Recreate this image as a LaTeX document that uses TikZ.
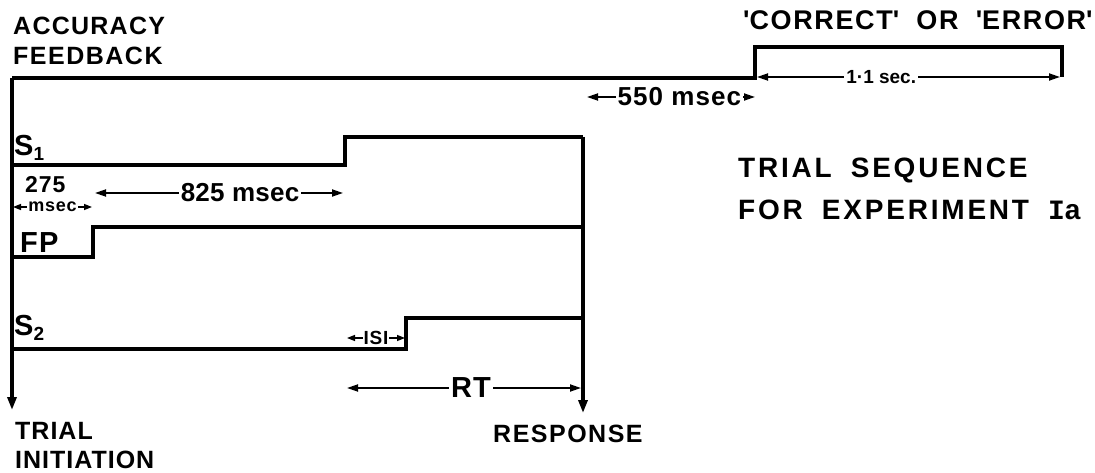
\documentclass[tikz,border=0pt]{standalone}
\usepackage{fontspec}
\setmainfont{Liberation Sans}[LetterSpace=4,BoldFont={Liberation Sans Bold}]
\newfontfamily\slabfont{Liberation Mono Bold}
\usetikzlibrary{arrows.meta}
\newcommand\fsz[1]{\fontsize{#1}{#1}\selectfont\bfseries}
\newcommand\wide[1]{\addfontfeatures{LetterSpace=#1}}
\begin{document}
\begin{tikzpicture}[x=1pt,y=-1pt,
  sig/.style={line width=3.2pt, line join=miter},
  sigarrow/.style={sig, -{Triangle[length=13pt,width=9pt]}},
  dim/.style={line width=1.8pt, {Triangle[length=11pt,width=7pt]}-{Triangle[length=11pt,width=7pt]}},
  smalldim/.style={line width=1.4pt, {Triangle[length=8pt,width=6pt]}-{Triangle[length=8pt,width=6pt]}},
  lbl/.style={inner sep=0pt, anchor=base west},
  dlbl/.style={fill=white, inner sep=2pt},
]
\useasboundingbox (0,0) rectangle (1095,473);

% signal corners
\coordinate (o) at (12,78);
\coordinate (ti) at (12,410);
\coordinate (fbon) at (755,78);
\coordinate (fbhi) at (755,47);
\coordinate (fboffhi) at (1062,47);
\coordinate (fboff) at (1062,77);
\coordinate (s1a) at (12,165);
\coordinate (s1b) at (345,165);
\coordinate (s1c) at (345,137);
\coordinate (r1) at (583,137);
\coordinate (resp) at (583,413);
\coordinate (fpa) at (12,257);
\coordinate (fpb) at (93,257);
\coordinate (fpc) at (93,227);
\coordinate (r2) at (583,227);
\coordinate (s2a) at (12,349);
\coordinate (s2b) at (406,349);
\coordinate (s2c) at (406,318);
\coordinate (r3) at (583,318);

% signal lines
\draw[sig] (fboff) -- (fboffhi) -- (fbhi) -- (fbon) -- (o);
\draw[sigarrow] (o) -- (ti);
\draw[sig] (s1a) -- (s1b) -- (s1c) -- (r1);
\draw[sigarrow] (r1) -- (resp);
\draw[sig] (fpa) -- (fpb) -- (fpc) -- (r2);
\draw[sig] (s2a) -- (s2b) -- (s2c) -- (r3);

% dimension ends
\coordinate (d11a) at (757,77);
\coordinate (d11b) at (1060,77);
\coordinate (d550a) at (587,97);
\coordinate (d550b) at (755,97);
\coordinate (d825a) at (95,193);
\coordinate (d825b) at (343,193);
\coordinate (d275a) at (13,207);
\coordinate (d275b) at (92,207);
\coordinate (disia) at (347,338);
\coordinate (disib) at (405,338);
\coordinate (drta) at (347,388);
\coordinate (drtb) at (581,388);

\draw[dim] (d11a) -- (d11b) node[dlbl,pos=0.41,font=\fsz{19}\wide{0}] (t11) {1·1 sec.};
\draw[dim] (d550a) -- (d550b) node[dlbl,pos=0.55,font=\fsz{26}] (t550) {550 msec};
\draw[dim] (d825a) -- (d825b) node[dlbl,pos=0.585,font=\fsz{26}\wide{1}] (t825) {825 msec};
\draw[smalldim] (d275a) -- (d275b) node[dlbl,inner sep=1pt,pos=0.5,font=\fsz{18}] (tms) {msec};
\draw[smalldim] (disia) -- (disib) node[dlbl,inner sep=1pt,pos=0.5,font=\fsz{19}] (tisi) {ISI};
\draw[dim] (drta) -- (drtb) node[dlbl,pos=0.53,font=\fsz{29}] (trt) {RT};

% labels
\node[lbl,font=\fsz{25}\wide{5}] (acc) at (13,35) {ACCURACY};
\node[lbl,font=\fsz{25}\wide{6}] (fb) at (13,65) {FEEDBACK};
\node[lbl,font=\fsz{27}\wide{6}] (ce) at (743,30) {\textquotesingle CORRECT\textquotesingle\hspace{0.3em} OR\hspace{0.3em} \textquotesingle ERROR\textquotesingle};
\node[lbl,font=\fsz{29}] (s1) at (14,156) {S\raisebox{-5pt}{\fsz{19}1}};
\node[lbl,font=\fsz{23}] (t275) at (25,193) {275};
\node[lbl,font=\fsz{29}] (fp) at (20,253) {FP};
\node[lbl,font=\fsz{29}] (s2) at (14,335) {S\raisebox{-5pt}{\fsz{19}2}};
\node[lbl,font=\fsz{25}\wide{6}] (rsp) at (493,442) {RESPONSE};
\node[lbl,font=\fsz{25}] (tri) at (15,439) {TRIAL};
\node[lbl,font=\fsz{25}] (ini) at (15,468) {INITIATION};
\node[lbl,font=\fsz{28}\wide{10}] (ts1) at (738,178) {TRIAL\hspace{0.3em} SEQUENCE};
\node[lbl,font=\fsz{28}\wide{10}] (ts2) at (738,220) {FOR\hspace{0.3em} EXPERIMENT\hspace{0.3em} {\slabfont I}a};
\end{tikzpicture}
\end{document}
